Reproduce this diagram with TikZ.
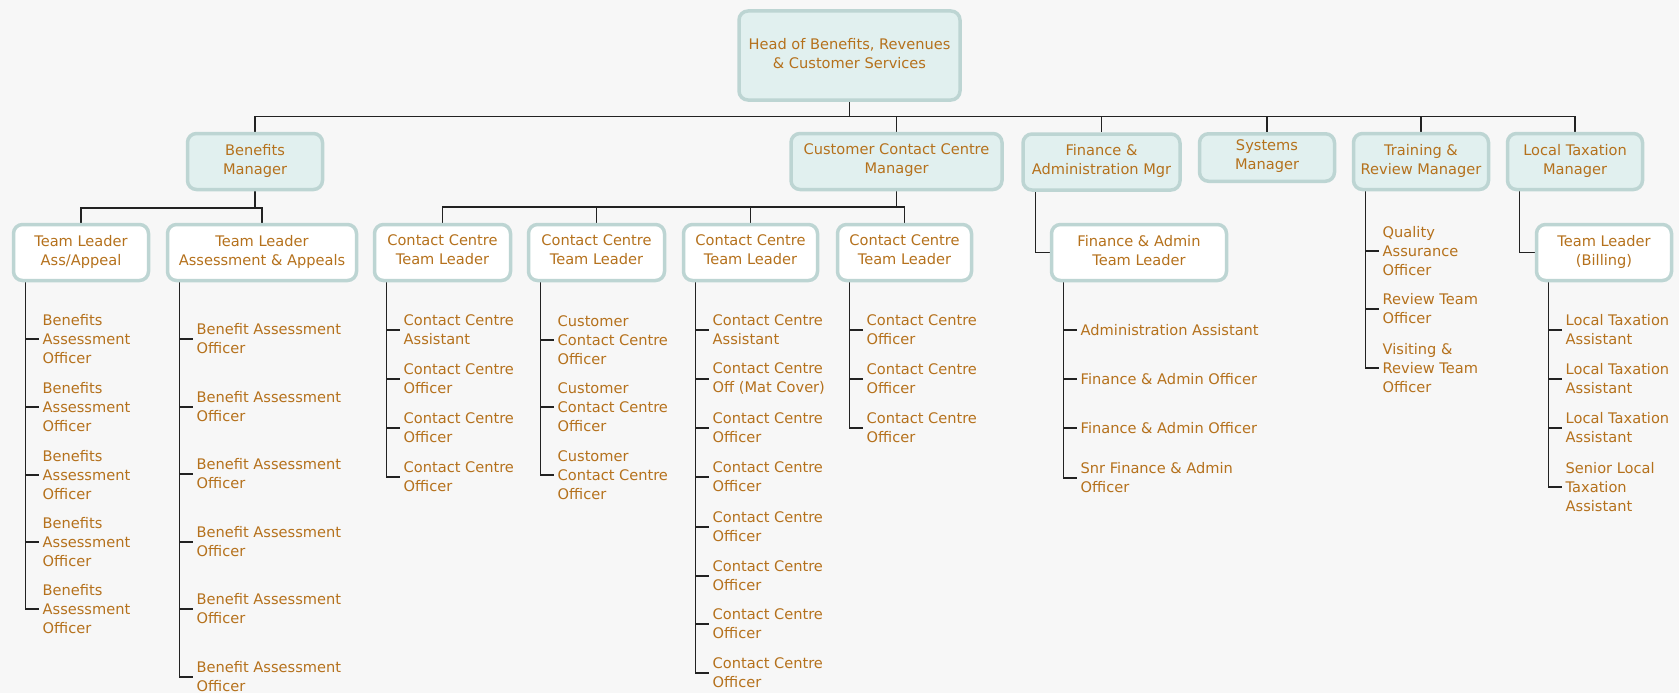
\documentclass[tikz,border=0pt]{standalone}
\usepackage{fontspec}
\setmainfont{DejaVu Sans}
\definecolor{bgcol}{HTML}{F7F7F7}
\definecolor{boxfill}{HTML}{E1F0EF}
\definecolor{boxdraw}{HTML}{BDD5D3}
\definecolor{txtcol}{HTML}{B5711C}
\definecolor{linecol}{HTML}{222222}
\pgfdeclarelayer{bg}
\pgfsetlayers{bg,main}
\tikzset{
  mgr/.style={
    % The shape:
    shape=rectangle,rounded corners=9pt,
    % The size:
    minimum height=56pt, inner sep=0pt, text depth=5pt,
    % The border:
    line width=3.5pt, draw=boxdraw,
    % The filling:
    fill=boxfill,
    % The text:
    text=txtcol, align=center
  },
  lead/.style={mgr, fill=white}, % team leaders are not shaded
  post/.style={text=txtcol, align=left, anchor=west, inner xsep=3.5pt, inner ysep=0pt},
  link/.style={line width=1.3pt, draw=linecol}
}

\begin{document}
\begin{tikzpicture}[x=1pt,y=-1pt,font=\fontsize{14.6pt}{19pt}\selectfont]
	\useasboundingbox (0,0) rectangle (1679,693);
	% top
	\node[mgr, minimum width=221pt, minimum height=89pt] (head) at (849.5,55.5) {Head of Benefits, Revenues\\\& Customer Services};
	% managers
	\node[mgr, minimum width=135pt] (ben) at (255,161.5) {Benefits\\Manager};
	\node[mgr, minimum width=211pt] (ccm) at (896.5,161.5) {Customer Contact Centre\\Manager};
	\node[mgr, minimum width=157pt] (fam) at (1101.5,162) {Finance \&\\Administration Mgr};
	\node[mgr, minimum width=135pt, minimum height=47.5pt] (sys) at (1267,157.5) {Systems\\Manager};
	\node[mgr, minimum width=135pt] (trm) at (1421,161.5) {Training \&\\Review Manager};
	\node[mgr, minimum width=135pt] (ltm) at (1575,161.5) {Local Taxation\\Manager};
	% team leaders
	\node[lead, minimum width=135pt] (ta1) at (81,252.5) {Team Leader\\Ass/Appeal};
	\node[lead, minimum width=189pt] (ta2) at (262,252.5) {Team Leader\\Assessment \& Appeals};
	\node[lead, minimum width=136pt] (cc1) at (442.5,252.5) {Contact Centre\\Team Leader};
	\node[lead, minimum width=136pt] (cc2) at (596.5,252.5) {Contact Centre\\Team Leader};
	\node[lead, minimum width=134pt] (cc3) at (750.5,252.5) {Contact Centre\\Team Leader};
	\node[lead, minimum width=134pt] (cc4) at (904.5,252.5) {Contact Centre\\Team Leader};
	\node[lead, minimum width=175pt] (fat) at (1139,252.5) {Finance \& Admin\\Team Leader};
	\node[lead, minimum width=135pt] (tlb) at (1604,252.5) {Team Leader\\(Billing)};
	% staff under Team Leader Ass/Appeal
	\node[post] (bao1) at (39,339) {Benefits\\Assessment\\Officer};
	\node[post] (bao2) at (39,407) {Benefits\\Assessment\\Officer};
	\node[post] (bao3) at (39,475) {Benefits\\Assessment\\Officer};
	\node[post] (bao4) at (39,542) {Benefits\\Assessment\\Officer};
	\node[post] (bao5) at (39,609) {Benefits\\Assessment\\Officer};
	% staff under Team Leader Assessment & Appeals
	\node[post] (bao6) at (193,339) {Benefit Assessment\\Officer};
	\node[post] (bao7) at (193,407) {Benefit Assessment\\Officer};
	\node[post] (bao8) at (193,474) {Benefit Assessment\\Officer};
	\node[post] (bao9) at (193,542) {Benefit Assessment\\Officer};
	\node[post] (bao10) at (193,609) {Benefit Assessment\\Officer};
	\node[post] (bao11) at (193,677) {Benefit Assessment\\Officer};
	% contact centre teams
	\node[post] (cco1) at (400,330) {Contact Centre\\Assistant};
	\node[post] (cco2) at (400,379) {Contact Centre\\Officer};
	\node[post] (cco3) at (400,428) {Contact Centre\\Officer};
	\node[post] (cco4) at (400,477) {Contact Centre\\Officer};
	\node[post] (cco5) at (554,340) {Customer\\Contact Centre\\Officer};
	\node[post] (cco6) at (554,407) {Customer\\Contact Centre\\Officer};
	\node[post] (cco7) at (554,475) {Customer\\Contact Centre\\Officer};
	\node[post] (cco8) at (709,330) {Contact Centre\\Assistant};
	\node[post] (cco9) at (709,379) {Contact Centre\\Off (Mat Cover)};
	\node[post] (cco10) at (709,428) {Contact Centre\\Officer};
	\node[post] (cco11) at (709,477) {Contact Centre\\Officer};
	\node[post] (cco12) at (709,527) {Contact Centre\\Officer};
	\node[post] (cco13) at (709,576) {Contact Centre\\Officer};
	\node[post] (cco14) at (709,624) {Contact Centre\\Officer};
	\node[post] (cco15) at (709,673) {Contact Centre\\Officer};
	\node[post] (cco16) at (863,330) {Contact Centre\\Officer};
	\node[post] (cco17) at (863,379) {Contact Centre\\Officer};
	\node[post] (cco18) at (863,428) {Contact Centre\\Officer};
	% finance team
	\node[post] (fao1) at (1077,330) {Administration Assistant};
	\node[post] (fao2) at (1077,379) {Finance \& Admin Officer};
	\node[post] (fao3) at (1077,428) {Finance \& Admin Officer};
	\node[post] (fao4) at (1077,478) {Snr Finance \& Admin\\Officer};
	% training team
	\node[post] (rvo1) at (1379,251) {Quality\\Assurance\\Officer};
	\node[post] (rvo2) at (1379,309) {Review Team\\Officer};
	\node[post] (rvo3) at (1379,368) {Visiting \&\\Review Team\\Officer};
	% billing team
	\node[post] (lta1) at (1562,330) {Local Taxation\\Assistant};
	\node[post] (lta2) at (1562,379) {Local Taxation\\Assistant};
	\node[post] (lta3) at (1562,428) {Local Taxation\\Assistant};
	\node[post] (lta4) at (1562,487) {Senior Local\\Taxation\\Assistant};

	\begin{pgfonlayer}{bg}
		\fill[bgcol] (0,0) rectangle (1679,693);
		% head to managers
		\draw[link] (head.south) -- ++(0,15) coordinate (top);
		\draw[link] (ben.north) |- (top) -| (ltm.north);
		\draw[link] (top -| ccm.north) -- (ccm.north);
		\draw[link] (top -| fam.north) -- (fam.north);
		\draw[link] (top -| sys.north) -- (sys.north);
		\draw[link] (top -| trm.north) -- (trm.north);
		% managers to team leaders
		\draw[link] (ben.south) -- ++(0,16.75) coordinate (benbus);
		\draw[link] (ta1.north) |- (benbus) -| (ta2.north);
		\draw[link] (ccm.south) -- ++(0,15.75) coordinate (ccbus);
		\draw[link] (cc1.north) |- (ccbus) -| (cc4.north);
		\draw[link] (ccbus -| cc2.north) -- (cc2.north);
		\draw[link] (ccbus -| cc3.north) -- (cc3.north);
		\draw[link] ([xshift=14pt]fam.south west) |- (fat.west);
		\draw[link] ([xshift=14pt]ltm.south west) |- (tlb.west);
		% team leaders to staff
		\coordinate (v1) at ([xshift=14pt]ta1.south west);
		\draw[link] (v1) |- (bao1.west) (v1) |- (bao2.west) (v1) |- (bao3.west) (v1) |- (bao4.west) (v1) |- (bao5.west);
		\coordinate (v2) at ([xshift=14pt]ta2.south west);
		\draw[link] (v2) |- (bao6.west) (v2) |- (bao7.west) (v2) |- (bao8.west) (v2) |- (bao9.west) (v2) |- (bao10.west) (v2) |- (bao11.west);
		\coordinate (v3) at ([xshift=14pt]cc1.south west);
		\draw[link] (v3) |- (cco1.west) (v3) |- (cco2.west) (v3) |- (cco3.west) (v3) |- (cco4.west);
		\coordinate (v4) at ([xshift=14pt]cc2.south west);
		\draw[link] (v4) |- (cco5.west) (v4) |- (cco6.west) (v4) |- (cco7.west);
		\coordinate (v5) at ([xshift=14pt]cc3.south west);
		\draw[link] (v5) |- (cco8.west) (v5) |- (cco9.west) (v5) |- (cco10.west) (v5) |- (cco11.west)
			(v5) |- (cco12.west) (v5) |- (cco13.west) (v5) |- (cco14.west) (v5) |- (cco15.west);
		\coordinate (v6) at ([xshift=14pt]cc4.south west);
		\draw[link] (v6) |- (cco16.west) (v6) |- (cco17.west) (v6) |- (cco18.west);
		\coordinate (v7) at ([xshift=14pt]fat.south west);
		\draw[link] (v7) |- (fao1.west) (v7) |- (fao2.west) (v7) |- (fao3.west) (v7) |- (fao4.west);
		\coordinate (v8) at ([xshift=14pt]trm.south west);
		\draw[link] (v8) |- (rvo1.west) (v8) |- (rvo2.west) (v8) |- (rvo3.west);
		\coordinate (v9) at ([xshift=14pt]tlb.south west);
		\draw[link] (v9) |- (lta1.west) (v9) |- (lta2.west) (v9) |- (lta3.west) (v9) |- (lta4.west);
	\end{pgfonlayer}
\end{tikzpicture}
\end{document}
